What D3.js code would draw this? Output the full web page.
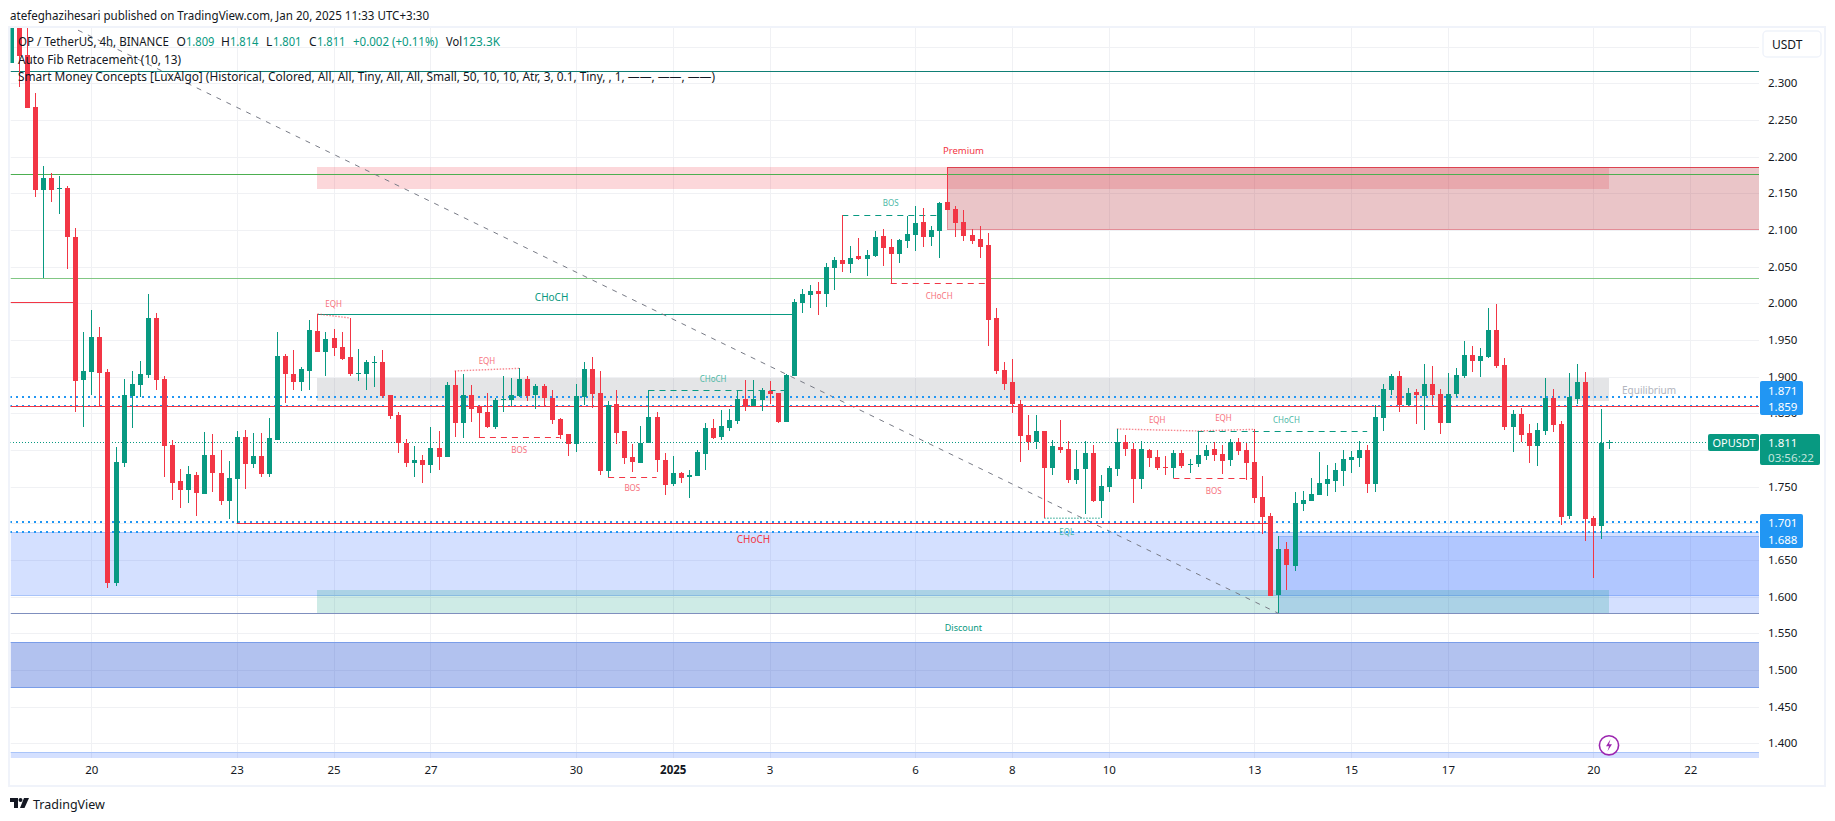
<!DOCTYPE html>
<html>
<head>
<meta charset="utf-8">
<script src="https://cdn.jsdelivr.net/npm/d3@7"></script>
<style>
  html, body { margin: 0; padding: 0; background: #fff; overflow: hidden; }
  text { font-family: "Noto Sans", sans-serif; }
</style>
</head>
<body>
<div id="chart"></div>
<script>
// 4h candles, first one is 10 bars before Dec 20 00:00
const firstBar = -10;
const opens = [
  2.3276,2.38,2.3386,2.2677,2.1545,2.1708,2.1563,2.1572,2.0904,1.8954,
  1.9063,1.9541,1.9063,1.6186,1.7823,1.8736,1.8886,1.9023,1.98,1.8968,
  1.8068,1.7577,1.7454,1.7659,1.74,1.7932,1.7686,1.7304,1.7604,1.8177,
  1.7809,1.7918,1.7673,1.8136,1.9282,1.9036,1.8927,1.9077,1.9623,1.9336,
  1.9527,1.9404,1.9268,1.9036,1.9036,1.9191,1.92,1.875,1.8477,1.8095,
  1.7823,1.7864,1.7795,1.8027,1.7904,1.8886,1.8368,1.875,1.86,1.8518,
  1.8313,1.8686,1.8682,1.8736,1.8968,1.875,1.8873,1.8709,1.8423,1.8218,
  1.8082,1.8723,1.9104,1.8777,1.7714,1.8627,1.8259,1.7905,1.7823,1.8095,
  1.845,1.7864,1.7536,1.7686,1.7632,1.7645,1.7945,1.83,1.8177,1.83,
  1.8395,1.8695,1.86,1.8682,1.8804,1.8777,1.8382,1.9009,2.0004,2.0113,
  2.0167,2.0126,2.0481,2.059,2.0535,2.0645,2.0604,2.0645,2.0917,2.0767,
  2.0672,2.0849,2.0931,2.1108,2.0904,2.0985,2.1381,2.1285,2.1108,2.0931,
  2.0876,2.0795,1.9799,1.909,1.8926,1.8627,1.8204,1.8109,1.8259,1.7754,
  1.804,1.8013,1.7591,1.774,1.7959,1.7304,1.7495,1.774,1.8109,1.8013,
  1.7604,1.7999,1.7904,1.7768,1.7754,1.7958,1.7795,1.7808,1.7918,1.8013,
  1.7945,1.7863,1.8109,1.7999,1.7836,1.7358,1.7099,1.6022,1.6649,1.6418,
  1.7263,1.7304,1.7386,1.7536,1.7577,1.7713,1.7863,1.789,1.7999,1.7536,
  1.8436,1.8818,1.9009,1.8613,1.8791,1.8736,1.89,1.8763,1.8368,1.8763,
  1.9009,1.9295,1.9213,1.9268,1.9636,1.9159,1.8314,1.8491,1.8232,1.8054,
  1.8259,1.8709,1.8354,1.71,1.8695,1.8927,1.7073,1.6963,1.809
];
const highs = [
  2.4,2.4,2.4,2.2863,2.1872,2.1777,2.1736,2.1599,2.1027,1.9609,
  1.9909,1.9677,1.9104,1.8041,1.8968,1.9077,1.9213,2.0127,1.9868,1.9009,
  1.8136,1.7741,1.7782,1.77,1.8245,1.8218,1.8,1.785,1.8259,1.8273,
  1.8232,1.8232,1.8436,1.9609,1.9309,1.9363,1.9132,1.9773,1.9854,1.9609,
  1.965,1.9609,1.98,1.9377,1.9227,1.9282,1.9363,1.875,1.8518,1.815,
  1.8054,1.7932,1.8314,1.8259,1.8927,1.9077,1.9036,1.8886,1.8614,1.8777,
  1.8709,1.9009,1.8982,1.9113,1.9009,1.89,1.89,1.8818,1.8436,1.8218,
  1.89,1.92,1.9268,1.9077,1.8668,1.8818,1.8259,1.8082,1.8327,1.8814,
  1.8518,1.7959,1.7918,1.77,1.7727,1.8,1.8368,1.8423,1.8545,1.8559,
  1.8804,1.8954,1.8954,1.8845,1.8941,1.8777,1.9036,2.0059,2.0195,2.0249,
  2.029,2.0549,2.0631,2.1199,2.0781,2.089,2.0726,2.0985,2.1013,2.0876,
  2.0876,2.119,2.1326,2.1299,2.1054,2.1381,2.1854,2.1326,2.1272,2.1013,
  2.1054,2.0958,1.9935,1.9199,1.924,1.8681,1.8477,1.8477,1.8259,1.8136,
  1.8409,1.8122,1.7999,1.8122,1.8068,1.7659,1.7781,1.8286,1.8204,1.8095,
  1.8122,1.8013,1.7999,1.7918,1.7999,1.7999,1.7877,1.8259,1.8068,1.8109,
  1.8068,1.815,1.8163,1.8095,1.8281,1.7645,1.714,1.6827,1.6745,1.7427,
  1.744,1.7618,1.7972,1.7795,1.7822,1.7999,1.7986,1.8122,1.8068,1.8613,
  1.8899,1.9036,1.9077,1.8845,1.8832,1.9173,1.9145,1.8832,1.905,1.9118,
  1.9486,1.9418,1.9391,1.9936,1.9991,1.9254,1.8545,1.8573,1.8354,1.8368,
  1.8982,1.8832,1.8395,1.905,1.9173,1.9063,1.71,1.8559,1.814
];
const lows = [
  2.3276,2.2954,2.2668,2.1454,2.034,2.1381,2.1218,2.0468,1.8518,1.8313,
  1.875,1.86,1.6118,1.6145,1.7768,1.83,1.8722,1.8982,1.8818,1.7632,
  1.7318,1.7209,1.7277,1.71,1.74,1.7427,1.725,1.7059,1.7,1.7468,
  1.7754,1.7632,1.7632,1.8136,1.8641,1.8818,1.8804,1.8818,1.9336,1.9009,
  1.9282,1.9227,1.9009,1.8941,1.8818,1.8859,1.8709,1.8423,1.7959,1.7768,
  1.7632,1.755,1.7686,1.7727,1.7904,1.8177,1.8163,1.8382,1.8173,1.83,
  1.8286,1.8518,1.86,1.8718,1.8668,1.8559,1.86,1.8354,1.815,1.7918,
  1.7973,1.8614,1.8573,1.7659,1.7627,1.8082,1.7809,1.77,1.7823,1.8095,
  1.77,1.7386,1.7509,1.755,1.7345,1.7645,1.7727,1.815,1.8136,1.8259,
  1.8354,1.8532,1.86,1.8532,1.8627,1.8364,1.8382,1.9009,1.9867,1.9935,
  1.984,1.9949,2.0181,2.0426,2.0413,2.059,2.0372,2.0631,2.0508,2.0272,
  2.0549,2.0754,2.0713,2.0767,2.0781,2.0617,2.1272,2.0904,2.0849,2.0808,
  2.0617,1.9417,1.9035,1.8817,1.8499,1.7836,1.7999,1.8013,1.7068,1.7659,
  1.7959,1.755,1.7536,1.7127,1.7291,1.7068,1.7427,1.7645,1.7918,1.7277,
  1.7468,1.7768,1.7727,1.7658,1.7613,1.7754,1.7686,1.7768,1.7863,1.7849,
  1.7672,1.7781,1.7931,1.759,1.7277,1.6854,1.6008,1.5772,1.609,1.635,
  1.7168,1.7304,1.7386,1.7372,1.7427,1.7508,1.7686,1.7768,1.7413,1.7427,
  1.8259,1.875,1.8518,1.86,1.8354,1.8273,1.8614,1.8218,1.8368,1.8723,
  1.8982,1.9064,1.8995,1.9254,1.9118,1.8273,1.7973,1.8109,1.7823,1.7782,
  1.8204,1.8245,1.6977,1.7059,1.8627,1.6759,1.6254,1.6786,1.801
];
const closes = [
  2.39,2.3377,2.2668,2.1545,2.1708,2.1545,2.1577,2.0904,1.8941,1.9077,
  1.9541,1.905,1.6186,1.7836,1.875,1.89,1.9036,1.98,1.8954,1.8054,
  1.755,1.7454,1.7673,1.7413,1.7932,1.7686,1.7304,1.7618,1.8177,1.7809,
  1.7918,1.7673,1.8163,1.9282,1.9036,1.8927,1.9104,1.9636,1.9336,1.9513,
  1.9391,1.9241,1.9036,1.905,1.92,1.92,1.8736,1.8464,1.8095,1.7823,
  1.7864,1.7795,1.8027,1.7904,1.8886,1.8368,1.875,1.8559,1.8504,1.8313,
  1.8682,1.8695,1.875,1.8968,1.8736,1.8873,1.8709,1.8409,1.8204,1.8082,
  1.8736,1.9104,1.8763,1.7714,1.8614,1.8232,1.7891,1.7836,1.8095,1.845,
  1.7864,1.7523,1.7686,1.7618,1.7659,1.7973,1.83,1.8163,1.8327,1.8409,
  1.8695,1.86,1.8695,1.8814,1.8763,1.8382,1.9023,2.0018,2.0126,2.0167,
  2.0126,2.0495,2.059,2.0535,2.0617,2.0604,2.0658,2.0904,2.0754,2.0672,
  2.0863,2.0945,2.1095,2.0904,2.0999,2.1367,2.1272,2.1095,2.0917,2.0849,
  2.0767,1.9772,1.9076,1.8899,1.8626,1.819,1.8109,1.8259,1.7754,1.8054,
  1.7999,1.7591,1.774,1.7959,1.7304,1.7509,1.7754,1.8109,1.8013,1.7604,
  1.8013,1.789,1.7754,1.7754,1.7958,1.7781,1.7808,1.7931,1.7999,1.7931,
  1.7849,1.8109,1.7986,1.7822,1.7345,1.7086,1.6008,1.6649,1.6431,1.7277,
  1.7318,1.7399,1.7549,1.7604,1.7727,1.7877,1.7904,1.7999,1.7536,1.8449,
  1.8831,1.9009,1.8613,1.8777,1.875,1.89,1.875,1.8368,1.8763,1.9023,
  1.9295,1.9213,1.9282,1.9636,1.9145,1.8314,1.8491,1.8204,1.8054,1.8273,
  1.8709,1.8341,1.7086,1.8723,1.8927,1.7059,1.6963,1.8095,1.811
];

const priceTicks = d3.range(1.4, 2.351, 0.05);
const dayBars = [0, 18, 30, 42, 60, 72, 84, 102, 114, 126, 144, 156, 168, 186, 198];
const dayLabels = ["20", "23", "25", "27", "30", "2025", "3", "6", "8", "10", "13", "15", "17", "20", "22"];

// zones and levels, price values
const fullLines = [
  { p: 2.3164, c: "#0f7f75" },
  { p: 2.1759, c: "#4caf50" },
  { p: 2.0345, c: "#81c784" },
  { p: 1.5772, c: "#7f8fbe" }
];
const alertLevels = [1.871, 1.859, 1.701, 1.688];
const swingDashes = [
  { a: 48, b: 58, p: 1.8173, c: "#f23645" },
  { a: 64, b: 70, p: 1.7627, c: "#f23645" },
  { a: 69, b: 86, p: 1.8814, c: "#089981" },
  { a: 93, b: 105, p: 2.1199, c: "#089981" },
  { a: 99, b: 111, p: 2.0272, c: "#f23645" },
  { a: 137, b: 158, p: 1.8254, c: "#089981" },
  { a: 134, b: 144, p: 1.7613, c: "#f23645" }
];
const equalLevels = [
  { a: 28, b: 32, p0: 1.9854, p1: 1.98, c: "#f23645" },
  { a: 45, b: 53, p0: 1.9077, p1: 1.9113, c: "#f23645" },
  { a: 127, b: 137, p0: 1.8286, p1: 1.8259, c: "#f23645" },
  { a: 137, b: 144, p0: 1.8259, p1: 1.8281, c: "#f23645" },
  { a: 118, b: 125, p0: 1.7068, p1: 1.7068, c: "#089981" }
];
const structureLabels = [
  { t: "EQH", a: 30, p: 1.9997, c: "#f7727d", s: 8 },
  { t: "EQH", a: 49, p: 1.9221, c: "#f7727d", s: 8 },
  { t: "EQH", a: 132, p: 1.8418, c: "#f7727d", s: 8 },
  { t: "EQH", a: 140.2, p: 1.8436, c: "#f7727d", s: 8 },
  { t: "EQL", a: 120.8, p: 1.6882, c: "#4cb8a6", s: 8 },
  { t: "BOS", a: 53, p: 1.8004, c: "#f7727d", s: 8 },
  { t: "BOS", a: 67, p: 1.7486, c: "#f7727d", s: 8 },
  { t: "BOS", a: 99, p: 2.1368, c: "#4cb8a6", s: 8 },
  { t: "BOS", a: 139, p: 1.7445, c: "#f7727d", s: 8 },
  { t: "CHoCH", a: 77, p: 1.8968, c: "#4cb8a6", s: 8 },
  { t: "CHoCH", a: 105, p: 2.0109, c: "#f7727d", s: 8 },
  { t: "CHoCH", a: 148, p: 1.8418, c: "#4cb8a6", s: 8 },
  { t: "CHoCH", a: 57, p: 2.0086, c: "#089981", s: 10 },
  { t: "CHoCH", a: 82, p: 1.6791, c: "#f23645", s: 10 },
  { t: "Premium", a: 108, p: 2.2077, c: "#f23645", s: 9.5 },
  { t: "Discount", a: 108, p: 1.5572, c: "#089981", s: 9 }
];

const width = 1835, height = 821;
const plot = { left: 10.5, right: 1759, top: 28, bottom: 758 };
const green = "#089981", red = "#f23645", blue = "#2196f3", ink = "#131722";

const x = d3.scaleLinear().domain([0, 186]).range([91.3, 1593.3]);
const y = d3.scaleLinear().domain([2.3, 1.6]).range([83.3, 596.6]);
const py = p => Math.round(y(p)) + 0.5; // crisp 1px rows

const candles = opens.map((o, i) => ({
  bar: firstBar + i, o, h: highs[i], l: lows[i], c: closes[i]
}));

const svg = d3.select("#chart").append("svg")
  .attr("width", width).attr("height", height)
  .style("display", "block");

svg.append("defs").append("clipPath").attr("id", "plot-clip")
  .append("rect")
  .attr("x", plot.left).attr("y", plot.top)
  .attr("width", plot.right - plot.left).attr("height", plot.bottom - plot.top);

// title + frame
svg.append("text").attr("x", 10).attr("y", 19.5)
  .attr("font-size", 13).attr("fill", ink)
  .attr("textLength", 419).attr("lengthAdjust", "spacingAndGlyphs")
  .text("atefeghazihesari published on TradingView.com, Jan 20, 2025 11:33 UTC+3:30");

svg.append("rect").attr("x", 9).attr("y", 27)
  .attr("width", 1816).attr("height", 759)
  .attr("fill", "none").attr("stroke", "#f0f3fa").attr("stroke-width", 2);

const chart = svg.append("g").attr("clip-path", "url(#plot-clip)");

// grid
chart.append("g").selectAll("line").data(priceTicks).join("line")
  .attr("x1", plot.left).attr("x2", plot.right)
  .attr("y1", d => py(d)).attr("y2", d => py(d))
  .attr("stroke", "#f0f1f4");
chart.append("g").selectAll("line").data(dayBars).join("line")
  .attr("x1", d => Math.round(x(d)) + 0.5).attr("x2", d => Math.round(x(d)) + 0.5)
  .attr("y1", plot.top).attr("y2", plot.bottom)
  .attr("stroke", "#f0f1f4");

function zone(a, b, p0, p1, fill, top, bottom) {
  const xa = a === null ? plot.left : Math.round(x(a));
  const xb = b === null ? plot.right : Math.round(x(b));
  chart.append("rect").attr("x", xa).attr("width", xb - xa)
    .attr("y", Math.round(y(p0))).attr("height", Math.round(y(p1)) - Math.round(y(p0))).attr("fill", fill);
  if (top) chart.append("line").attr("x1", xa).attr("x2", xb)
    .attr("y1", py(p0)).attr("y2", py(p0)).attr("stroke", top);
  if (bottom) chart.append("line").attr("x1", xa).attr("x2", xb)
    .attr("y1", py(p1)).attr("y2", py(p1)).attr("stroke", bottom);
}

const swingA = 28, swingEnd = 188;
const blueFill = "rgba(41,98,255,0.2)";
zone(null, null, 1.688, 1.6022, blueFill, "#a9c4f9", "#a9c4f9");
zone(147, null, 1.6827, 1.5772, blueFill, "#94b4f5", null);
zone(null, null, 1.5375, 1.4763, "rgba(21,69,206,0.33)", "#7a9de8", "#7a9de8");
zone(null, null, 1.3877, 1.36, blueFill, "#a9c4f9", null);
zone(swingA, swingEnd, 2.1854, 2.1558, "rgba(242,54,69,0.2)");
zone(swingA, swingEnd, 1.8986, 1.8673, "rgba(120,123,134,0.2)");
zone(swingA, swingEnd, 1.6091, 1.5772, "rgba(8,153,129,0.2)");
zone(106, null, 2.1854, 2.1017, "rgba(178,40,51,0.27)", "#dc4350", "#e38d97");
chart.append("line").attr("x1", Math.round(x(106)) + 0.5).attr("x2", Math.round(x(106)) + 0.5)
  .attr("y1", y(2.1854)).attr("y2", y(2.1017))
  .attr("stroke", "#e38d97");

// full width levels
chart.append("g").selectAll("line").data(fullLines).join("line")
  .attr("x1", plot.left).attr("x2", plot.right)
  .attr("y1", d => py(d.p)).attr("y2", d => py(d.p))
  .attr("stroke", d => d.c);

chart.append("line").attr("x1", x(28)).attr("x2", x(87))
  .attr("y1", py(1.9854)).attr("y2", py(1.9854)).attr("stroke", green);

// fib trend line
chart.append("line")
  .attr("x1", x(-9)).attr("y1", y(2.4118))
  .attr("x2", x(147)).attr("y2", y(1.5772))
  .attr("stroke", "#787b86").attr("stroke-dasharray", "5,6");

// last price line
chart.append("line").attr("x1", 10).attr("x2", plot.right)
  .attr("y1", py(1.811)).attr("y2", py(1.811))
  .attr("stroke", green).attr("stroke-dasharray", "1,2");

// alert levels
chart.append("g").selectAll("line").data(alertLevels).join("line")
  .attr("x1", 10).attr("x2", plot.right)
  .attr("y1", d => Math.round(y(d) - 0.4)).attr("y2", d => Math.round(y(d) - 0.4))
  .attr("stroke", blue).attr("stroke-width", 2).attr("stroke-dasharray", "2,4");

// red swing levels sit over the dotted alerts
chart.append("line").attr("x1", plot.left).attr("x2", x(-2))
  .attr("y1", py(2.0014)).attr("y2", py(2.0014)).attr("stroke", red);
chart.append("line").attr("x1", plot.left).attr("x2", plot.right)
  .attr("y1", py(1.8594)).attr("y2", py(1.8594)).attr("stroke", red);
chart.append("line").attr("x1", x(18)).attr("x2", x(146))
  .attr("y1", py(1.7)).attr("y2", py(1.7)).attr("stroke", red);

chart.append("g").selectAll("line").data(swingDashes).join("line")
  .attr("x1", d => x(d.a)).attr("x2", d => x(d.b))
  .attr("y1", d => py(d.p)).attr("y2", d => py(d.p))
  .attr("stroke", d => d.c).attr("stroke-dasharray", "6,5");

chart.append("g").selectAll("line").data(equalLevels).join("line")
  .attr("x1", d => x(d.a)).attr("x2", d => x(d.b))
  .attr("y1", d => y(d.p0)).attr("y2", d => y(d.p1))
  .attr("stroke", d => d.c).attr("stroke-opacity", 0.6)
  .attr("stroke-width", 1.4).attr("stroke-dasharray", "1.5,1.5");

// candles
const bars = chart.append("g").selectAll("g").data(candles).join("g")
  .attr("fill", d => d.c >= d.o ? green : red);
bars.append("rect")
  .attr("x", d => Math.round(x(d.bar))).attr("width", 1)
  .attr("y", d => Math.round(y(d.h))).attr("height", d => Math.round(y(d.l)) - Math.round(y(d.h)));
bars.append("rect")
  .attr("x", d => Math.round(x(d.bar)) - 2).attr("width", 5)
  .attr("y", d => Math.round(y(Math.max(d.o, d.c))))
  .attr("height", d => Math.max(1, Math.round(y(Math.min(d.o, d.c))) - Math.round(y(Math.max(d.o, d.c)))));

// SMC text
chart.append("g").selectAll("text").data(structureLabels).join("text")
  .attr("x", d => x(d.a)).attr("y", d => y(d.p))
  .attr("text-anchor", "middle").attr("dominant-baseline", "central")
  .attr("font-size", d => d.s).attr("fill", d => d.c)
  .text(d => d.t);

chart.append("text").attr("x", 1622).attr("y", y(1.8818))
  .attr("dominant-baseline", "central")
  .attr("font-size", 10).attr("fill", "#b2b5be")
  .text("Equilibrium");

// axes
const yAxis = d3.axisRight(y)
  .tickValues(priceTicks.filter(d => d < 2.32))
  .tickFormat(d3.format(".3f")).tickSize(0).tickPadding(9);
svg.append("g").attr("transform", `translate(${plot.right},0)`).call(yAxis)
  .call(g => g.select(".domain").remove())
  .selectAll("text").attr("font-size", 11.5).attr("fill", ink)
  .style("font-family", "'Noto Sans', sans-serif");

const xAxis = d3.axisBottom(x)
  .tickValues(dayBars)
  .tickFormat((d, i) => dayLabels[i]).tickSize(0).tickPadding(8);
svg.append("g").attr("transform", `translate(0,${plot.bottom})`).call(xAxis)
  .call(g => g.select(".domain").remove())
  .selectAll("text").attr("font-size", 11.5).attr("fill", ink)
  .attr("font-weight", d => d === 72 ? 700 : 400)
  .style("font-family", "'Noto Sans', sans-serif");

// legend
const legend = svg.append("g").attr("font-size", 12).attr("fill", ink);
function legendText(tx, ty, s, fill, len) {
  const t = legend.append("text").attr("x", tx).attr("y", ty).attr("fill", fill || ink).text(s);
  if (len) t.attr("textLength", len).attr("lengthAdjust", "spacingAndGlyphs");
}
legendText(18, 46, "OP / TetherUS, 4h, BINANCE", ink, 151);
[["O", 176.5, "1.809", 186], ["H", 221, "1.814", 230], ["L", 266, "1.801", 273], ["C", 309, "1.811", 317]]
  .forEach(d => { legendText(d[1], 46, d[0]); legendText(d[3], 46, d[2], green, 28.5); });
legendText(353, 46, "+0.002 (+0.11%)", green, 85);
legendText(446, 46, "Vol", ink, 16);
legendText(462.6, 46, "123.3K", green, 37.5);
legendText(18, 63.5, "Auto Fib Retracement (10, 13)", ink, 163);
legendText(18, 80.5, "Smart Money Concepts [LuxAlgo] (Historical, Colored, All, All, Tiny, All, All, Small, 50, 10, 10, Atr, 3, 0.1, Tiny, , 1, \u2014\u2014, \u2014\u2014, \u2014\u2014)", ink, 697);

// price labels on the scale
const tags = svg.append("g").attr("font-size", 11.5);
function tag(tx, ty, w, h, fill) {
  tags.append("rect").attr("x", tx).attr("y", ty).attr("width", w).attr("height", h)
    .attr("rx", 2).attr("fill", fill);
}
function tagText(tx, ty, s, fill, len) {
  const t = tags.append("text").attr("x", tx).attr("y", ty).attr("dominant-baseline", "central")
    .attr("fill", fill || "#fff").text(s);
  if (len) t.attr("textLength", len).attr("lengthAdjust", "spacingAndGlyphs");
}
tag(1760, 381, 43, 34, blue);
tagText(1768, 390, "1.871");
tagText(1768, 406.7, "1.859");
tag(1760, 514, 43, 34, blue);
tagText(1768, 522.7, "1.701");
tagText(1768, 539.3, "1.688");
tag(1760, 434, 60, 31, green);
tagText(1768, 442.7, "1.811");
tagText(1768, 457, "03:56:22", "#c4e6df", 46);
tag(1708, 434, 51, 17, green);
tagText(1712.5, 442.7, "OPUSDT", "#fff", 43);

// currency button
svg.append("rect").attr("x", 1763).attr("y", 31).attr("width", 58).attr("height", 26)
  .attr("rx", 4).attr("fill", "#fff").attr("stroke", "#f0f3fa").attr("stroke-width", 1.5);
svg.append("text").attr("x", 1772).attr("y", 44.5).attr("dominant-baseline", "central")
  .attr("font-size", 12).attr("fill", ink).text("USDT");

// lightning marker
const bolt = svg.append("g").attr("transform", "translate(1609,745.3)");
bolt.append("circle").attr("r", 9.6).attr("fill", "#fff")
  .attr("stroke", "#9c27b0").attr("stroke-width", 1.6);
bolt.append("path").attr("d", "M1.5,-6 L-3,1 L0,1 L-1.5,6 L3,-1 L0,-1 Z").attr("fill", "#9c27b0");

// logo
const logo = svg.append("g").attr("transform", "translate(10,798)").attr("fill", ink);
logo.append("path").attr("d", "M0,0 H8 V10 H4 V4 H0 Z");
logo.append("circle").attr("cx", 10.5).attr("cy", 2).attr("r", 2);
logo.append("path").attr("d", "M14,0 H19 L14.5,10 H10 Z");
svg.append("text").attr("x", 33).attr("y", 808.5)
  .attr("font-size", 12.5).attr("fill", ink).text("TradingView");
</script>
</body>
</html>
